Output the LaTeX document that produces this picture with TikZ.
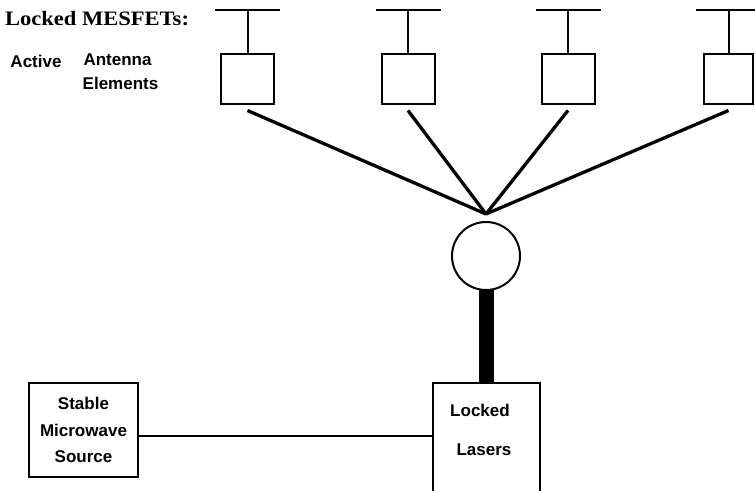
\documentclass[tikz,border=0pt]{standalone}
\usepackage{fontspec}
\setmainfont{Liberation Sans}
\newfontfamily\titlefont{Liberation Serif}
\begin{document}
\begin{tikzpicture}[x=1pt,y=-1pt,
  lbl/.style={font=\fontsize{17}{26.5}\selectfont\bfseries, inner sep=0pt, align=center},
  elem/.style={draw, line width=2pt, minimum height=50pt, inner sep=0pt},
  feed/.style={line width=3.3pt},
  thinline/.style={line width=2pt},
  boxstyle/.style={draw, line width=2pt, inner sep=0pt}]
\useasboundingbox (0,0) rectangle (755,490);
\clip (0,0) rectangle (755,490);
\node[inner sep=0pt, font=\titlefont\fontsize{20.5}{24}\selectfont\bfseries, xscale=1.1] (title) at (97,19) {Locked MESFETs:};
\node[lbl] (active) at (36,61) {Active};
\node[lbl] (antenna) at (117.5,60) {Antenna};
\node[lbl] (elements) at (120.5,83) {Elements};
\coordinate (hub) at (486,214);
\foreach \i/\x/\w in {1/247.5/53, 2/408/53, 3/568/53, 4/728.5/49} {
  \node[elem, minimum width=\w pt] (e\i) at (\x,78.5) {};
  \coordinate (t\i) at (\x,10);
  \draw[thinline] (t\i) -- (e\i.north);
  \draw[thinline] ([xshift=-32.5pt]t\i) -- ([xshift=32.5pt]t\i);
  \draw[feed] ([yshift=-6pt]e\i.south) -- (hub);
}
\node[draw, circle, line width=2pt, minimum size=68pt, inner sep=0pt] (comb) at (486,256) {};
\node[boxstyle, minimum width=107pt, minimum height=117pt] (laser) at (486,441.5) {};
\node[lbl] (locked) at (480,410) {Locked};
\node[lbl] (lasers) at (484,450) {Lasers};
\draw[line width=15pt, shorten <=-2pt] (comb.south) -- (laser.north);
\node[boxstyle, lbl, minimum width=109pt, minimum height=94pt] (stable) at (83.5,430) {Stable\\Microwave\\Source};
\draw[thinline] ([yshift=-6pt]stable.east) -- ([yshift=-6pt]stable.east -| laser.west);
\end{tikzpicture}
\end{document}
